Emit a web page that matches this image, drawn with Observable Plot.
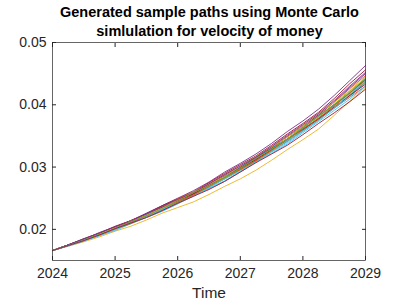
<!DOCTYPE html>
<html><head><meta charset="utf-8">
<script src="https://cdn.jsdelivr.net/npm/d3@7"></script>
<script src="https://cdn.jsdelivr.net/npm/@observablehq/plot@0.6"></script>
<style>
body{margin:0;background:#fff;}
#wrap{position:relative;width:403px;height:305px;}
#title{position:absolute;left:8px;top:3px;width:403px;text-align:center;font:bold 14.5px "Liberation Sans",Arial,sans-serif;line-height:19px;color:#000;}
</style></head>
<body><div id="wrap"><div id="title">Generated sample paths using Monte Carlo<br>simlulation for velocity of money</div></div>
<script>
const times = [2024,2024.25,2024.5,2024.75,2025,2025.25,2025.5,2025.75,2026,2026.25,2026.5,2026.75,2027,2027.25,2027.5,2027.75,2028,2028.25,2028.5,2028.75,2029];
const xTicks = [2024,2025,2026,2027,2028,2029];
const yTicks = [0.02,0.03,0.04,0.05];
const pathColors = ["#0072BD","#D95319","#EDB120","#7E2F8E","#77AC30","#4DBEEE","#A2142F"];
const paths = [
[0.0166,0.0174,0.0183,0.0191,0.0200,0.0211,0.0221,0.0231,0.0243,0.0256,0.0268,0.0281,0.0296,0.0312,0.0326,0.0341,0.0359,0.0378,0.0396,0.0415,0.0436],
[0.0166,0.0175,0.0184,0.0192,0.0203,0.0214,0.0224,0.0234,0.0246,0.0259,0.0271,0.0283,0.0298,0.0313,0.0327,0.0342,0.0360,0.0378,0.0395,0.0412,0.0430],
[0.0166,0.0173,0.0180,0.0188,0.0197,0.0205,0.0215,0.0226,0.0235,0.0244,0.0256,0.0269,0.0281,0.0295,0.0311,0.0328,0.0344,0.0361,0.0383,0.0406,0.0428],
[0.0166,0.0175,0.0185,0.0194,0.0204,0.0214,0.0226,0.0238,0.0250,0.0262,0.0276,0.0292,0.0306,0.0321,0.0338,0.0357,0.0374,0.0393,0.0415,0.0439,0.0463],
[0.0166,0.0174,0.0183,0.0193,0.0202,0.0211,0.0223,0.0235,0.0246,0.0257,0.0271,0.0286,0.0299,0.0313,0.0330,0.0348,0.0364,0.0381,0.0401,0.0422,0.0442],
[0.0166,0.0173,0.0181,0.0190,0.0198,0.0209,0.0219,0.0229,0.0241,0.0254,0.0266,0.0278,0.0293,0.0309,0.0324,0.0339,0.0357,0.0376,0.0394,0.0413,0.0435],
[0.0166,0.0175,0.0185,0.0194,0.0205,0.0214,0.0225,0.0238,0.0249,0.0260,0.0275,0.0290,0.0304,0.0318,0.0335,0.0353,0.0370,0.0388,0.0410,0.0434,0.0456],
[0.0166,0.0174,0.0182,0.0192,0.0201,0.0210,0.0222,0.0233,0.0244,0.0257,0.0270,0.0283,0.0296,0.0311,0.0328,0.0343,0.0360,0.0379,0.0399,0.0419,0.0440],
[0.0166,0.0175,0.0184,0.0194,0.0203,0.0213,0.0224,0.0236,0.0249,0.0260,0.0273,0.0288,0.0301,0.0315,0.0332,0.0349,0.0366,0.0383,0.0404,0.0426,0.0447],
[0.0166,0.0174,0.0183,0.0191,0.0202,0.0213,0.0222,0.0232,0.0244,0.0257,0.0269,0.0281,0.0296,0.0312,0.0327,0.0342,0.0361,0.0380,0.0398,0.0418,0.0441],
[0.0166,0.0175,0.0184,0.0193,0.0204,0.0213,0.0223,0.0235,0.0246,0.0257,0.0271,0.0286,0.0300,0.0314,0.0331,0.0349,0.0366,0.0384,0.0405,0.0428,0.0450],
[0.0166,0.0174,0.0182,0.0191,0.0200,0.0209,0.0220,0.0232,0.0243,0.0254,0.0268,0.0282,0.0295,0.0309,0.0325,0.0342,0.0358,0.0375,0.0395,0.0416,0.0437],
[0.0166,0.0174,0.0182,0.0190,0.0200,0.0210,0.0219,0.0229,0.0241,0.0254,0.0265,0.0277,0.0292,0.0308,0.0322,0.0337,0.0355,0.0373,0.0391,0.0409,0.0430],
[0.0166,0.0174,0.0183,0.0192,0.0202,0.0211,0.0223,0.0235,0.0246,0.0257,0.0271,0.0285,0.0298,0.0312,0.0328,0.0345,0.0361,0.0377,0.0396,0.0415,0.0433],
[0.0166,0.0175,0.0184,0.0193,0.0202,0.0213,0.0224,0.0234,0.0247,0.0260,0.0272,0.0285,0.0300,0.0316,0.0330,0.0345,0.0363,0.0382,0.0400,0.0419,0.0441],
[0.0166,0.0174,0.0182,0.0192,0.0201,0.0210,0.0221,0.0233,0.0244,0.0255,0.0269,0.0283,0.0296,0.0310,0.0327,0.0345,0.0361,0.0378,0.0398,0.0419,0.0439],
[0.0166,0.0174,0.0183,0.0192,0.0203,0.0213,0.0223,0.0234,0.0247,0.0260,0.0272,0.0285,0.0301,0.0317,0.0332,0.0348,0.0366,0.0386,0.0404,0.0423,0.0445],
[0.0166,0.0175,0.0184,0.0195,0.0204,0.0213,0.0225,0.0237,0.0248,0.0259,0.0273,0.0288,0.0302,0.0316,0.0333,0.0351,0.0368,0.0386,0.0407,0.0430,0.0452],
[0.0166,0.0174,0.0183,0.0192,0.0201,0.0212,0.0222,0.0233,0.0245,0.0259,0.0270,0.0283,0.0298,0.0314,0.0329,0.0345,0.0363,0.0382,0.0400,0.0420,0.0443],
[0.0166,0.0174,0.0182,0.0190,0.0200,0.0210,0.0220,0.0232,0.0242,0.0253,0.0267,0.0281,0.0294,0.0308,0.0325,0.0342,0.0358,0.0375,0.0395,0.0417,0.0438],
[0.0166,0.0174,0.0182,0.0191,0.0201,0.0210,0.0219,0.0230,0.0242,0.0253,0.0264,0.0277,0.0292,0.0307,0.0321,0.0335,0.0352,0.0370,0.0387,0.0405,0.0425]
];
const data = paths.flatMap((vals, p) => vals.map((v, i) => ({t: times[i], v, p, c: pathColors[p % pathColors.length]})));
const font = '"Liberation Sans", Arial, sans-serif';
const noText = () => "";
const chart = Plot.plot({
  width: 403, height: 305,
  marginTop: 42, marginBottom: 45, marginLeft: 52, marginRight: 38,
  style: {fontFamily: font, fontSize: "14px", color: "#262626", background: "transparent", overflow: "visible"},
  x: {domain: [2024, 2029]},
  y: {domain: [0.015, 0.05]},
  color: {type: "identity"},
  marks: [
    Plot.line(data, {x: "t", y: "v", z: "p", stroke: "c", strokeWidth: 0.9}),
    Plot.frame({stroke: "#262626", strokeWidth: 0.7}),
    Plot.axisX({ticks: xTicks, tickSize: -4, tickFormat: noText, label: null}),
    Plot.text(xTicks, {x: d => d, text: d => String(d), frameAnchor: "bottom", dy: 17, fontSize: 14, fill: "#262626"}),
    Plot.axisX({ticks: xTicks, anchor: "top", tickSize: -4, tickFormat: noText, label: null}),
    Plot.axisY({ticks: yTicks, tickFormat: d => d.toFixed(2), tickSize: -4, tickPadding: 10, fontSize: 14, label: null}),
    Plot.axisY({ticks: yTicks, anchor: "right", tickSize: -4, tickFormat: noText, label: null}),
    Plot.text(["Time"], {frameAnchor: "bottom", dy: 37, fontSize: 15.5, fill: "#262626"})
  ]
});
document.getElementById("wrap").prepend(chart);
</script></body></html>
